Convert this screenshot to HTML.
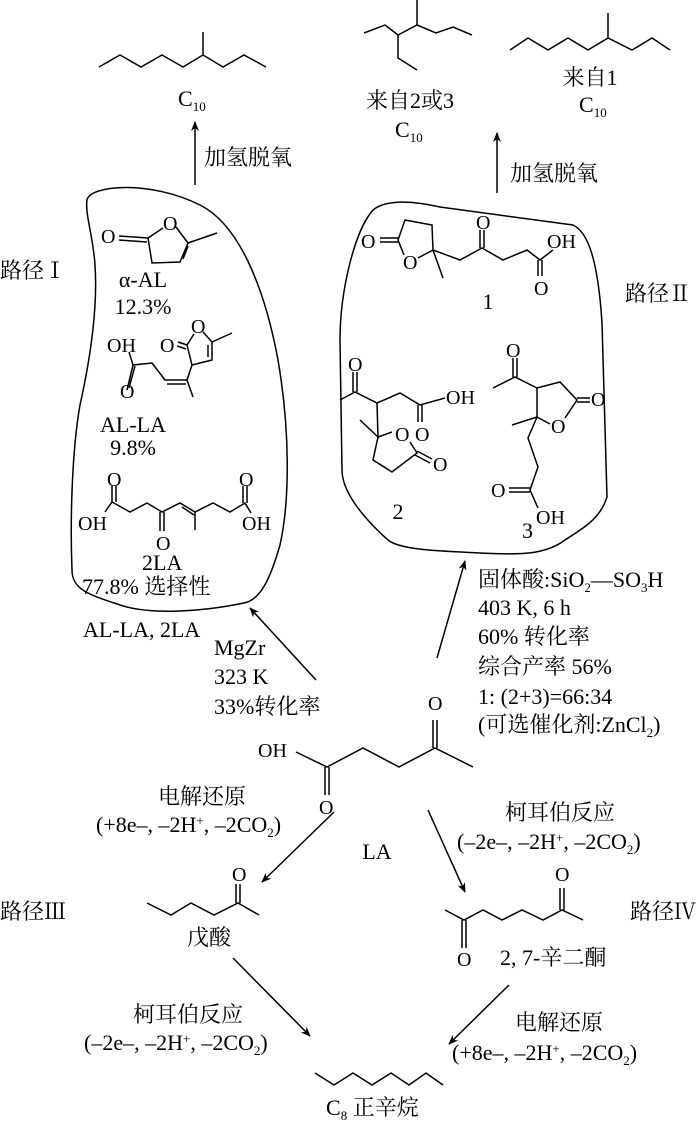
<!DOCTYPE html>
<html><head><meta charset="utf-8"><style>
html,body{margin:0;padding:0;background:#fff;}
svg{display:block;}
text{font-family:"Liberation Serif","Noto Serif CJK SC","Noto Sans CJK SC",serif;font-size:22px;fill:#000;}
.s{font-size:13px;}
.m{font-size:20px;}
</style></head><body>
<svg width="700" height="1122" viewBox="0 0 700 1122" xmlns="http://www.w3.org/2000/svg">
<defs><marker id="a" markerWidth="10" markerHeight="8" refX="9" refY="4" orient="auto" markerUnits="userSpaceOnUse"><path d="M0,0 L10,4 L0,8 L3,4 Z" fill="#000"/></marker></defs>
<g fill="none" stroke="#000" stroke-width="1.5">
<polyline points="99,67 120,55 141,67 162,55 183,67 203,55 223,67 244,55 266,67"/>
<line x1="203" y1="55" x2="203" y2="32"/>
<polyline points="364,33 385,25 398,35 417,25 436,33 453,27 472,35"/>
<polyline points="398,35 398,58 417,70"/>
<line x1="417" y1="25" x2="417" y2="0"/>
<polyline points="510,50 528,38 548,50 568,38 588,50 608,38 632,50 652,38 670,50"/>
<line x1="608" y1="38" x2="608" y2="13"/>
<line x1="195" y1="185" x2="195" y2="122" marker-end="url(#a)"/>
<line x1="497" y1="193" x2="497" y2="133" marker-end="url(#a)"/>
<path d="M87,200 C90,185 150,180 200,205 C240,225 265,290 278,360 C290,430 290,500 280,545 C270,580 260,600 244,603 C200,612 150,615 120,605 C90,595 72,590 72,570 C70,520 72,450 80,405 C90,360 98,310 95,265 C93,235 85,215 87,200 Z"/>
<path d="M373,210 C385,200 410,200 440,207 L573,225 C588,232 598,260 602,323 L607,497 C600,520 580,530 565,540 C545,555 520,555 480,553 C440,551 400,550 388,540 C360,515 342,490 342,470 L340,340 C340,290 355,230 373,210 Z"/>
<line x1="119" y1="236" x2="148" y2="238"/><line x1="119" y1="240" x2="147" y2="242"/>
<polyline points="163,228 148,238 152,263 180,262 188,243 176,227"/>
<line x1="183" y1="259" x2="188" y2="246"/>
<line x1="188" y1="243" x2="217" y2="233"/>
<polyline points="127,390 133,365 152,363 165,380 187,380 192,365 212,360 212,342 203,332"/>
<line x1="129" y1="388" x2="135" y2="366"/><line x1="133" y1="365" x2="129" y2="352"/>
<line x1="167" y1="384" x2="186" y2="384"/>
<line x1="187" y1="380" x2="193" y2="397"/>
<polyline points="192,365 187,345 194,334"/>
<line x1="178" y1="342" x2="187" y2="345"/><line x1="177" y1="346" x2="186" y2="349"/>
<line x1="208" y1="357" x2="208" y2="345"/>
<line x1="212" y1="342" x2="232" y2="333"/>
<polyline points="105,512 112,502 130,512 147,503 162,512 180,503 195,512 213,503 230,512 245,503 251,513"/>
<line x1="112" y1="502" x2="112" y2="486"/><line x1="116" y1="502" x2="116" y2="486"/>
<line x1="160" y1="512" x2="160" y2="531"/><line x1="164" y1="512" x2="164" y2="531"/>
<line x1="182" y1="507" x2="194" y2="515"/>
<line x1="195" y1="512" x2="195" y2="530"/>
<line x1="243" y1="503" x2="243" y2="486"/><line x1="247" y1="503" x2="247" y2="486"/>
<line x1="380" y1="238" x2="398" y2="238"/><line x1="380" y1="242" x2="398" y2="242"/>
<polyline points="404,255 398,240 405,220 432,225 433,250 418,258"/>
<polyline points="433,250 443,278"/>
<polyline points="433,250 460,260 482,248 503,260 527,250 540,260 553,250"/>
<line x1="480" y1="248" x2="480" y2="230"/><line x1="484" y1="248" x2="484" y2="230"/>
<line x1="538" y1="260" x2="538" y2="276"/><line x1="542" y1="260" x2="542" y2="276"/>
<line x1="353" y1="372" x2="353" y2="392"/><line x1="357" y1="372" x2="357" y2="392"/>
<polyline points="340,400 355,392 377,403 400,393 420,405 445,398"/>
<line x1="418" y1="405" x2="418" y2="422"/><line x1="422" y1="405" x2="422" y2="422"/>
<polyline points="377,403 378,437 360,420"/>
<polyline points="378,437 392,432"/>
<polyline points="378,437 373,460 392,472 417,453 410,442"/>
<line x1="417" y1="451" x2="432" y2="459"/><line x1="415" y1="455" x2="430" y2="463"/>
<line x1="513" y1="358" x2="513" y2="377"/><line x1="517" y1="358" x2="517" y2="377"/>
<polyline points="493,388 515,377 537,388 560,382 577,400 565,418"/>
<line x1="577" y1="398" x2="590" y2="398"/><line x1="577" y1="402" x2="590" y2="402"/>
<polyline points="537,388 537,417 550,424"/>
<line x1="537" y1="417" x2="512" y2="425"/>
<polyline points="537,417 528,438 538,467 530,490 538,508"/>
<line x1="530" y1="488" x2="509" y2="488"/><line x1="530" y1="492" x2="509" y2="492"/>
<line x1="316" y1="680" x2="250" y2="608" marker-end="url(#a)"/>
<line x1="437" y1="658" x2="465" y2="561" marker-end="url(#a)"/>
<line x1="334" y1="812" x2="262" y2="882" marker-end="url(#a)"/>
<line x1="428" y1="810" x2="465" y2="892" marker-end="url(#a)"/>
<line x1="233" y1="958" x2="310" y2="1036" marker-end="url(#a)"/>
<line x1="509" y1="985" x2="449" y2="1044" marker-end="url(#a)"/>
<polyline points="296,752 327,767 363,748 399,767 435,748 473,767"/>
<line x1="325" y1="767" x2="325" y2="795"/><line x1="329" y1="767" x2="329" y2="795"/>
<line x1="433" y1="748" x2="433" y2="720"/><line x1="437" y1="748" x2="437" y2="720"/>
<polyline points="147,903 171,915 191,903 214,915 238,903 259,915"/>
<line x1="236" y1="903" x2="236" y2="884"/><line x1="240" y1="903" x2="240" y2="884"/>
<polyline points="445,910 464,920 483,910 502,920 522,910 543,920 562,910 583,920"/>
<line x1="462" y1="920" x2="462" y2="948"/><line x1="466" y1="920" x2="466" y2="948"/>
<line x1="560" y1="910" x2="560" y2="888"/><line x1="564" y1="910" x2="564" y2="888"/>
<polyline points="315,1073 334,1085 353,1073 372,1085 391,1073 409,1085 426,1073 443,1085"/>
</g>
<text x="178" y="106">C<tspan class="s" dy="5">10</tspan></text>
<text x="410" y="108" text-anchor="middle">来自2或3</text>
<text x="395" y="137">C<tspan class="s" dy="5">10</tspan></text>
<text x="590" y="85" text-anchor="middle">来自1</text>
<text x="579" y="112">C<tspan class="s" dy="5">10</tspan></text>
<text x="204" y="165">加氢脱氧</text>
<text x="510" y="181">加氢脱氧</text>
<text x="0" y="278">路径Ⅰ</text>
<text x="625" y="301">路径Ⅱ</text>
<text class="m" x="101" y="243">O</text><text class="m" x="163" y="230">O</text>
<text x="143" y="287" text-anchor="middle">α-AL</text>
<text x="143" y="314" text-anchor="middle">12.3%</text>
<text class="m" x="107" y="352">OH</text><text class="m" x="160" y="352">O</text><text class="m" x="191" y="333">O</text><text class="m" x="120" y="398">O</text>
<text x="133" y="432" text-anchor="middle">AL-LA</text>
<text x="133" y="455" text-anchor="middle">9.8%</text>
<text class="m" x="107" y="486">O</text><text class="m" x="239" y="486">O</text>
<text class="m" x="78" y="530">OH</text><text class="m" x="156" y="550">O</text><text class="m" x="242" y="530">OH</text>
<text x="142" y="570">2LA</text>
<text x="82" y="594">77.8% 选择性</text>
<text class="m" x="361" y="248">O</text><text class="m" x="403" y="269">O</text><text class="m" x="476" y="229">O</text>
<text class="m" x="547" y="248">OH</text><text class="m" x="534" y="295">O</text>
<text x="488" y="309" text-anchor="middle">1</text>
<text class="m" x="348" y="371">O</text><text class="m" x="446" y="404">OH</text><text class="m" x="415" y="441">O</text>
<text class="m" x="395" y="441">O</text><text class="m" x="433" y="471">O</text>
<text x="398" y="519" text-anchor="middle">2</text>
<text class="m" x="506" y="357">O</text><text class="m" x="591" y="406">O</text><text class="m" x="551" y="433">O</text>
<text class="m" x="491" y="497">O</text><text class="m" x="536" y="524">OH</text>
<text x="522" y="538">3</text>
<text x="83" y="637">AL-LA, 2LA</text>
<text x="214" y="655">MgZr</text>
<text x="214" y="684">323 K</text>
<text x="214" y="714">33%转化率</text>
<text x="478" y="587">固体酸:SiO<tspan class="s" dy="5">2</tspan><tspan dy="-5">—SO</tspan><tspan class="s" dy="5">3</tspan><tspan dy="-5">H</tspan></text>
<text x="478" y="615">403 K, 6 h</text>
<text x="478" y="644">60% 转化率</text>
<text x="478" y="674">综合产率 56%</text>
<text x="478" y="704">1: (2+3)=66:34</text>
<text x="478" y="732">(可选催化剂:ZnCl<tspan class="s" dy="5">2</tspan><tspan dy="-5">)</tspan></text>
<text class="m" x="258" y="757">OH</text><text class="m" x="428" y="710">O</text><text class="m" x="319" y="814">O</text>
<text x="377" y="859" text-anchor="middle">LA</text>
<text x="202" y="804" text-anchor="middle">电解还原</text>
<text x="96" y="832">(+8e–, –2H<tspan class="s" dy="-7">+</tspan><tspan dy="7">, –2CO</tspan><tspan class="s" dy="5">2</tspan><tspan dy="-5">)</tspan></text>
<text x="560" y="820" text-anchor="middle">柯耳伯反应</text>
<text x="457" y="849">(–2e–, –2H<tspan class="s" dy="-7">+</tspan><tspan dy="7">, –2CO</tspan><tspan class="s" dy="5">2</tspan><tspan dy="-5">)</tspan></text>
<text x="0" y="919">路径Ⅲ</text>
<text x="630" y="919">路径Ⅳ</text>
<text class="m" x="232" y="881">O</text>
<text x="209" y="945" text-anchor="middle">戊酸</text>
<text class="m" x="555" y="881">O</text><text class="m" x="457" y="966">O</text>
<text x="500" y="965">2, 7-辛二酮</text>
<text x="188" y="1022" text-anchor="middle">柯耳伯反应</text>
<text x="84" y="1050">(–2e–, –2H<tspan class="s" dy="-7">+</tspan><tspan dy="7">, –2CO</tspan><tspan class="s" dy="5">2</tspan><tspan dy="-5">)</tspan></text>
<text x="559" y="1030" text-anchor="middle">电解还原</text>
<text x="452" y="1060">(+8e–, –2H<tspan class="s" dy="-7">+</tspan><tspan dy="7">, –2CO</tspan><tspan class="s" dy="5">2</tspan><tspan dy="-5">)</tspan></text>
<text x="326" y="1115">C<tspan class="s" dy="5">8</tspan><tspan dy="-5">  正辛烷</tspan></text>
</svg>
</body></html>
